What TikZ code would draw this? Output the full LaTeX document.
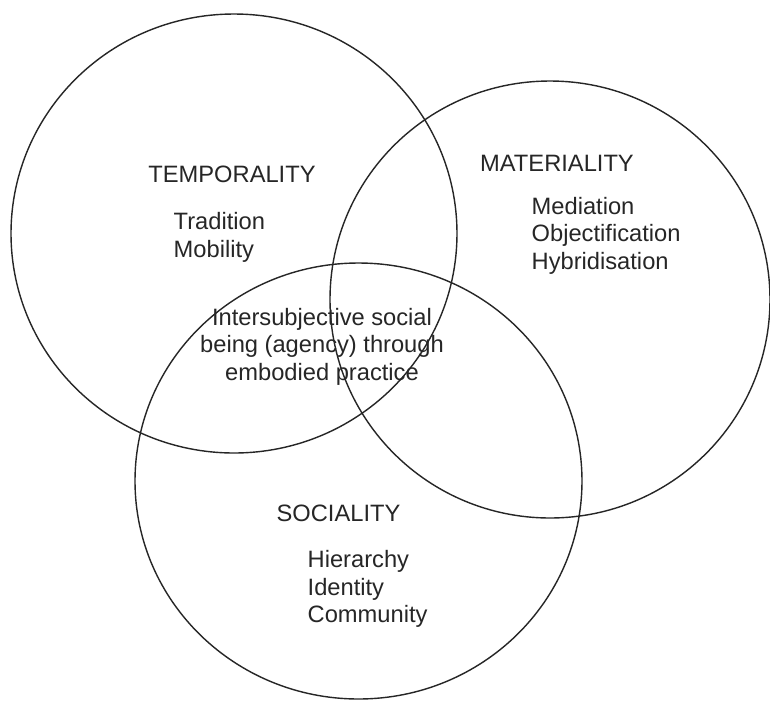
\documentclass[tikz,border=0pt]{standalone}
\usepackage{fontspec}
\setmainfont{Liberation Sans}
\usepackage{tikz}
\usepackage{xcolor}

\begin{document}
\begin{tikzpicture}[
    ring/.style={line width=0.4pt,draw=black!85},
    judul/.style={font=\fontsize{6.74}{7.8}\selectfont,text=black!85,inner sep=0pt,anchor=base},
    daftar/.style={judul,align=left,anchor=base west}]

    % Latar putih sekaligus batas gambar
    \fill[white] (0,0) rectangle (7.7,7);
    \useasboundingbox (0,0) rectangle (7.7,7);

    % Gambar tiga lingkaran yang saling beririsan
    \draw[ring] (2.34,4.665) ellipse [x radius=2.23,y radius=2.195];
    \draw[ring] (5.50,4.005) ellipse [x radius=2.20,y radius=2.185];
    \draw[ring] (3.585,2.19) ellipse [x radius=2.235,y radius=2.18];

    % Judul tiap lingkaran
    \node[judul] (temporal) at (2.32,5.18) {TEMPORALITY};
    \node[judul] (material) at (5.57,5.29) {MATERIALITY};
    \node[judul] (sosial) at (3.385,1.783) {SOCIALITY};

    % Daftar isi tiap lingkaran (base = garis dasar baris terakhir)
    \node[daftar] (temporalisi) at (1.73,4.43) {Tradition\\Mobility};
    \node[daftar] (materialisi) at (5.31,4.31) {Mediation\\Objectification\\Hybridisation};
    \node[daftar] (sosialisi) at (3.07,0.773) {Hierarchy\\Identity\\Community};

    % Tulisan di irisan ketiga lingkaran
    \node[judul,align=center] (tengah) at (3.22,3.20) {Intersubjective social\\being (agency) through\\embodied practice};

\end{tikzpicture}
\end{document}
